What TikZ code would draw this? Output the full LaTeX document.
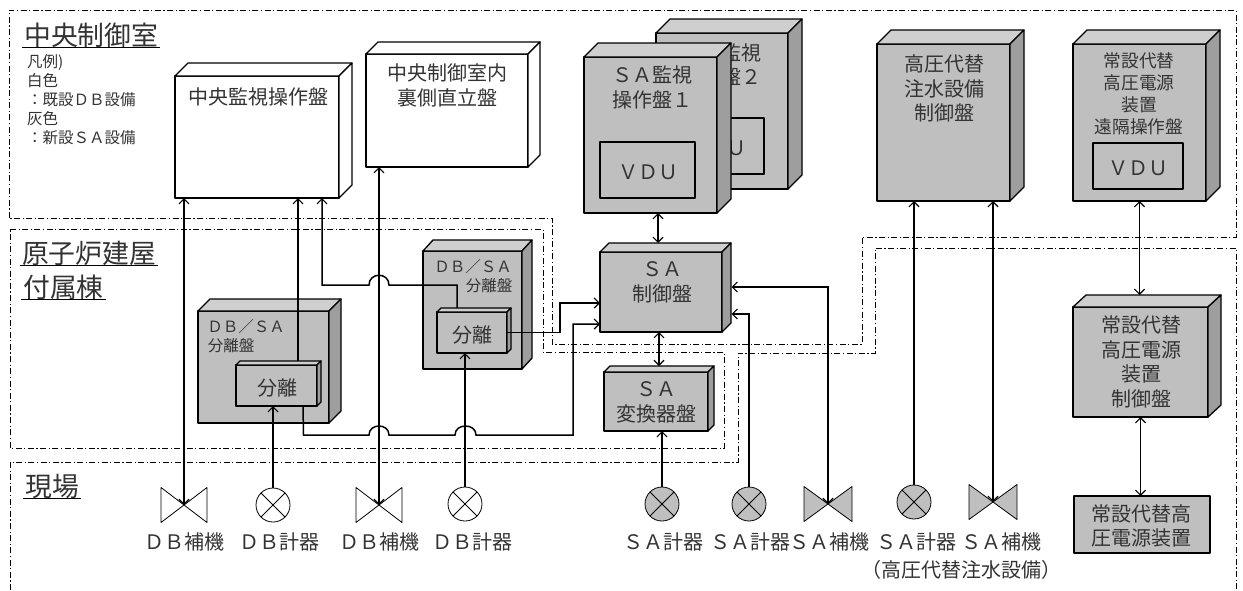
\documentclass[tikz,border=0pt]{standalone}
\usepackage{fontspec}
\setmainfont{Noto Sans CJK JP}
\usepackage{tikz}
\usetikzlibrary{arrows.meta,calc}

\definecolor{grayfront}{gray}{0.75}
\definecolor{graytop}{gray}{0.81}
\definecolor{grayside}{gray}{0.62}
\colorlet{whitefront}{white}
\colorlet{whitetop}{white}
\colorlet{whiteside}{white}
\definecolor{inktext}{gray}{0.2}

\tikzset{
  zone/.style={line width=0.6pt,dash pattern=on 6pt off 2.5pt on 1.2pt off 2.5pt},
  front/.style={draw,line width=1.3pt,inner sep=0pt,outer sep=0pt,line join=round},
  txt/.style={inner sep=0pt,align=center,text=inktext,font=\fontsize{20}{24.7}\selectfont},
  txtsmall/.style={txt,font=\fontsize{15.5}{19}\selectfont},
  txtremote/.style={txt,font=\fontsize{17.7}{22}\selectfont},
  head/.style={inner xsep=2pt,inner ysep=0pt,anchor=west,text=inktext,font=\fontsize{26.8}{30}\selectfont},
  headline/.style={line width=1.4pt},
  gauge/.style={circle,draw,line width=0.8pt,minimum size=34pt,inner sep=0pt,
    path picture={\draw[line width=0.8pt] (path picture bounding box.south west) -- (path picture bounding box.north east)
      (path picture bounding box.north west) -- (path picture bounding box.south east);}},
  wire/.style={line width=1.5pt},
}

% [colour set]{name}{x0}{y0}{x1}{y1}{depth x}{depth y}
\newcommand{\cabinet}[8][gray]{
  \node[front,fill=#1front,minimum width={(#5-#3)*1pt},minimum height={(#6-#4)*1pt}] (#2) at ({(#3+#5)/2},{(#4+#6)/2}) {};
  \draw[line width=1.3pt,line join=round,fill=#1top] (#2.north west) -- ++(#7,-#8) -- ++({#5-#3},0) -- (#2.north east) -- cycle;
  \draw[line width=1.3pt,line join=round,fill=#1side] (#2.north east) -- ++(#7,-#8) -- ++(0,{#6-#4}) -- (#2.south east) -- cycle;
  \coordinate (#2-top) at ($(#2.north)+(#7,-#8)$);
}
% [colour set]{name}{x}{y}{half width}{half height}
\newcommand{\valvesym}[6][white]{
  \coordinate (#2) at (#3,#4);
  \draw[line width=0.8pt,line join=round,fill=#1front] (#2) -- ++(-#5,-#6) -- ++(0,{2*#6}) -- cycle;
  \draw[line width=0.8pt,line join=round,fill=#1front] (#2) -- ++(#5,-#6) -- ++(0,{2*#6}) -- cycle;
}

\begin{document}
\begin{tikzpicture}[x=1pt,y=-1pt,>={Straight Barb[length=5pt,width=10pt,line width=1.2pt]}]
  \useasboundingbox (0,0) rectangle (1243,590);

  % zones
  \draw[zone] (9,218) -- (9,10) -- (1236,10) -- (1236,237) -- (862,237) -- (862,344) -- (552,344) -- (552,218) -- cycle;
  \draw[zone] (10,229.5) -- (543,229.5) -- (543,352) -- (724,352) -- (724,448) -- (10,448) -- cycle;
  \draw[zone] (10,590) -- (10,462) -- (738,462) -- (738,353) -- (875,353) -- (875,248) -- (1236,248) -- (1236,590);

  \node[head] (headA) at (22,35) {中央制御室};
  \node[head] (headB) at (20,253) {原子炉建屋};
  \node[head] (headC) at (21,287) {付属棟};
  \node[head] (headD) at (23,486) {現場};
  \foreach \headname in {headA,headB,headC,headD}
    \draw[headline] (\headname.south west) -- (\headname.south east);

  \node[txtsmall,align=left,anchor=north west] (legend) at (27,54.5) {凡例)\\白色\\：既設ＤＢ設備\\灰色\\：新設ＳＡ設備};

  % control room panels
  \cabinet[white]{mainpanel}{175}{76}{339}{198}{13}{13}
  \node[txt] (mainpaneltxt) at (258,97) {中央監視操作盤};
  \cabinet[white]{rearpanel}{366}{54}{528}{167}{12}{12}
  \node[txt] (rearpaneltxt) at (447,85.5) {中央制御室内\\裏側直立盤};

  \cabinet{monitorB}{656}{33}{788}{189}{14}{14}
  \node[txt] (monitorBtxt) at (721,65) {ＳＡ監視\\操作盤２};
  \node[front,fill=grayfront,minimum width=95pt,minimum height=56pt] (vduB) at (716.5,146) {};
  \node[txt] (vduBtxt) at (716.5,148) {ＶＤＵ};
  \cabinet{monitorA}{584}{57}{717}{213}{14}{14}
  \node[txt] (monitorAtxt) at (652,87.5) {ＳＡ監視\\操作盤１};
  \node[front,fill=grayfront,minimum width=95pt,minimum height=56pt] (vduA) at (647.5,170) {};
  \node[txt] (vduAtxt) at (648,172) {ＶＤＵ};

  \cabinet{hppanel}{877}{44}{1010}{201}{14}{14}
  \node[txt] (hppaneltxt) at (944,88.5) {高圧代替\\注水設備\\制御盤};
  \cabinet{remotepanel}{1073}{44}{1206}{201}{14}{14}
  \node[txtremote] (remotepaneltxt) at (1139,94) {常設代替\\高圧電源\\装置\\遠隔操作盤};
  \node[front,fill=grayfront,minimum width=90pt,minimum height=46pt] (vduC) at (1138,166) {};
  \node[txt] (vduCtxt) at (1138,168) {ＶＤＵ};

  % field side panels
  \cabinet{ctrlpanel}{1073}{307}{1208}{417}{13}{12}
  \node[txt] (ctrlpaneltxt) at (1141,362) {常設代替\\高圧電源\\装置\\制御盤};
  \node[front,fill=grayfront,minimum width=136pt,minimum height=57pt] (source) at (1142,524.5) {};
  \node[txt] (sourcetxt) at (1141,526) {常設代替高\\圧電源装置};

  \cabinet{sactrl}{600}{252}{722}{332}{9}{9}
  \node[txt] (sactrltxt) at (662,282) {ＳＡ\\制御盤};
  \cabinet{saconv}{604}{372}{708}{431}{6}{6}
  \node[txt] (saconvtxt) at (656,402.5) {ＳＡ\\変換器盤};

  \cabinet{sepR}{423}{251}{522}{369}{10}{11}
  \node[txtsmall] (sepRtxtA) at (473,267) {ＤＢ／ＳＡ};
  \node[txtsmall] (sepRtxtB) at (489,286) {分離盤};
  \cabinet{sepRin}{437}{312}{507}{353}{4}{4}
  \node[txt] (sepRintxt) at (472,335) {分離};

  \cabinet{sepL}{198}{311}{329}{423}{12}{12}
  \node[txtsmall] (sepLtxtA) at (246,327) {ＤＢ／ＳＡ};
  \node[txtsmall] (sepLtxtB) at (231,346) {分離盤};
  \cabinet{sepLin}{236}{365}{317}{406}{4}{4}
  \node[txt] (sepLintxt) at (277,388) {分離};

  % field devices
  \valvesym{valveA}{184}{505}{23}{17.5}
  \node[gauge,fill=white] (gaugeA) at (273,505) {};
  \valvesym{valveB}{379}{505}{23}{17.5}
  \node[gauge,fill=white] (gaugeB) at (465,504) {};
  \node[gauge,fill=grayfront] (gaugeC) at (662,504) {};
  \node[gauge,fill=grayfront] (gaugeD) at (749,504) {};
  \valvesym[gray]{valveC}{828}{504}{24}{17.5}
  \node[gauge,fill=grayfront] (gaugeE) at (914,502) {};
  \valvesym[gray]{valveD}{993}{502}{24}{17.5}

  \node[txt] (valveAtxt) at (184,542) {ＤＢ補機};
  \node[txt] (gaugeAtxt) at (279,542) {ＤＢ計器};
  \node[txt] (valveBtxt) at (379,542) {ＤＢ補機};
  \node[txt] (gaugeBtxt) at (472,542) {ＤＢ計器};
  \node[txt] (gaugeCtxt) at (663,542) {ＳＡ計器};
  \node[txt] (gaugeDtxt) at (750,542) {ＳＡ計器};
  \node[txt] (valveCtxt) at (829,542) {ＳＡ補機};
  \node[txt] (gaugeEtxt) at (916,542) {ＳＡ計器};
  \node[txt] (valveDtxt) at (1001,542) {ＳＡ補機};
  \node[txt] (hpnote) at (961,570) {（高圧代替注水設備）};

  % signal lines
  \draw[wire,<->] (mainpanel.south -| valveA) -- (valveA);
  \draw[wire,<->] (rearpanel.south -| valveB) -- (valveB);
  \draw[wire,->] ([xshift=21.5pt,yshift=4pt]sepLin.north) -- ([xshift=41pt]mainpanel.south);
  \draw[wire,->] (gaugeA.north) -- (sepLin.south -| gaugeA);
  \draw[wire,->] (gaugeB.north) -- (sepRin.south -| gaugeB);
  \draw[wire,->] ([xshift=-15pt,yshift=4pt]sepRin.north) -- (457,285) -- (389,285)
    .. controls (389,272) and (369,272) .. (369,285) -- (322,285) -- ([xshift=65pt]mainpanel.south);
  \draw[wire,->] ([xshift=26.5pt]sepLin.south) -- (303.5,435) -- (369,435) .. controls (369,423) and (389,423) .. (389,435)
    -- (455,435) .. controls (455,423) and (476,423) .. (476,435) -- (573,435) -- (573,324) -- ([yshift=-32pt]sactrl.west);
  \draw[wire,->] (sepRin.east) -- (560,332.5) -- (560,303) -- ([yshift=-11pt]sactrl.west);
  \draw[wire,<->] ([xshift=7.5pt]monitorA.south) -- ([xshift=7.5pt]monitorA.south |- sactrl-top);
  \draw[wire,<->] ([xshift=-2pt]sactrl.south) -- ([xshift=-2pt]sactrl.south |- saconv-top);
  \draw[wire,->] (gaugeC.north) -- (saconv.south -| gaugeC);
  \draw[wire,->] (gaugeD.north) |- ([xshift=9.5pt,yshift=-22pt]sactrl.east);
  \draw[wire,<->] (valveC) |- ([xshift=9.5pt,yshift=5pt]sactrl.east);
  \draw[wire,->] (gaugeE.north) -- (hppanel.south -| gaugeE);
  \draw[wire,<->] (hppanel.south -| valveD) -- (valveD);
  \draw[wire,<->] (remotepanel.south) -- (remotepanel.south |- ctrlpanel-top);
  \draw[wire,<->] (ctrlpanel.south) -- (ctrlpanel.south |- source.north);
\end{tikzpicture}
\end{document}
